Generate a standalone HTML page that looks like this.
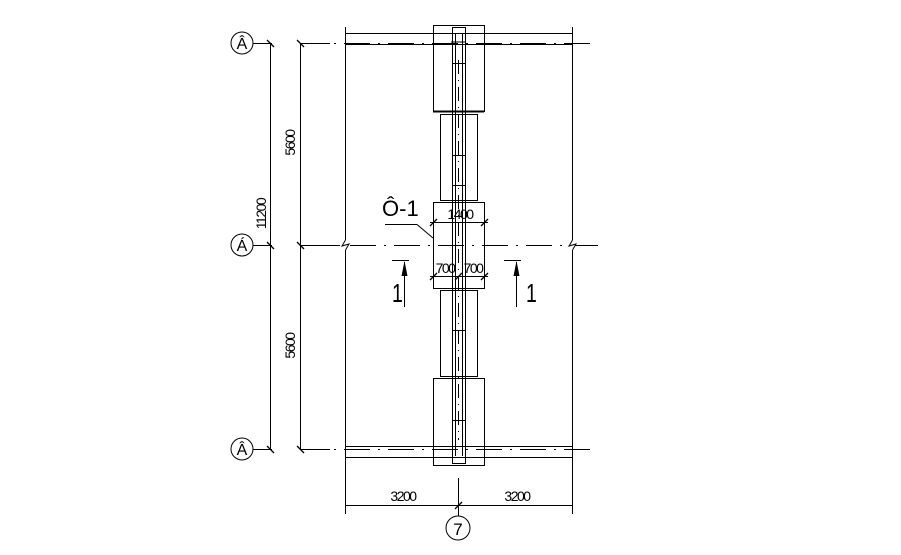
<!DOCTYPE html>
<html><head><meta charset="utf-8"><style>
html,body{margin:0;padding:0;background:#fff;}
svg{display:block;}
text{font-family:"Liberation Sans",sans-serif;fill:#000;}
</style></head><body>
<svg width="901" height="555" viewBox="0 0 901 555" xmlns="http://www.w3.org/2000/svg">
<g stroke="#000" stroke-width="1" fill="none">
<!-- axis centre lines -->
<g stroke-dasharray="26,8,2,8">
<line x1="300" y1="43.5" x2="598" y2="43.5"/>
<line x1="300" y1="449.5" x2="598" y2="449.5"/>
<line x1="350" y1="245.5" x2="566" y2="245.5"/>
</g>
<line x1="575" y1="245.5" x2="598" y2="245.5"/>
<line x1="300" y1="245.5" x2="340" y2="245.5"/>
<!-- outer verticals -->
<line x1="345.5" y1="27" x2="345.5" y2="240"/><polyline points="345.5,240 342,246 349,244 345.5,250"/><line x1="345.5" y1="250" x2="345.5" y2="514"/>
<line x1="572.5" y1="27" x2="572.5" y2="240"/><polyline points="572.5,240 569,246 576,244 572.5,250"/><line x1="572.5" y1="250" x2="572.5" y2="514"/>
<!-- beams -->
<line x1="345" y1="33.5" x2="572" y2="33.5"/>
<line x1="345" y1="44.5" x2="572" y2="44.5"/>
<line x1="345" y1="446.5" x2="572" y2="446.5"/>
<line x1="345" y1="457.5" x2="572" y2="457.5"/>
<!-- blocks -->
<rect x="433.5" y="25.5" width="51" height="86"/>
<rect x="440.5" y="114.5" width="37" height="86"/>
<rect x="433.5" y="202.5" width="51" height="86"/>
<rect x="440.5" y="290.5" width="37" height="86"/>
<rect x="433.5" y="378.5" width="51" height="87"/>
<line x1="433" y1="111.5" x2="484" y2="111.5" stroke-width="2"/>
<!-- column -->
<polyline points="452.5,457 452.5,27.5 465.5,27.5 465.5,457"/>
<polyline points="452.5,457 452.5,463.5 465.5,463.5 465.5,457"/>
<line x1="455.5" y1="33" x2="455.5" y2="456"/>
<line x1="462.5" y1="33" x2="462.5" y2="456"/>
<line x1="451" y1="42" x2="466" y2="42"/>
<line x1="458.5" y1="60" x2="458.5" y2="440" stroke-dasharray="14,6,1,6"/>
<line x1="452" y1="63.5" x2="466" y2="63.5"/>
<line x1="452" y1="155.5" x2="466" y2="155.5"/>
<line x1="452" y1="185.5" x2="466" y2="185.5"/>
<line x1="452" y1="330.5" x2="466" y2="330.5"/>
<line x1="452" y1="420.5" x2="466" y2="420.5"/>
<!-- left dims -->
<line x1="270.5" y1="43" x2="270.5" y2="449"/>
<line x1="300.5" y1="43" x2="300.5" y2="449"/>
<line x1="253" y1="43.5" x2="272" y2="43.5"/>
<line x1="253" y1="245.5" x2="272" y2="245.5"/>
<line x1="253" y1="449.5" x2="272" y2="449.5"/>
<line x1="300" y1="43.5" x2="330" y2="43.5"/>
<line x1="300" y1="245.5" x2="330" y2="245.5"/>
<line x1="300" y1="449.5" x2="330" y2="449.5"/>
<g stroke-width="1.3">
<line x1="267" y1="40" x2="274" y2="47"/><line x1="267" y1="242" x2="274" y2="249"/><line x1="267" y1="446" x2="274" y2="453"/>
<line x1="297" y1="40" x2="304" y2="47"/><line x1="297" y1="242" x2="304" y2="249"/><line x1="297" y1="446" x2="304" y2="453"/>
</g>
<circle cx="242" cy="43" r="11"/>
<circle cx="242" cy="245" r="11"/>
<circle cx="242" cy="449" r="11"/>
<!-- bottom dims -->
<line x1="345" y1="505.5" x2="572" y2="505.5"/>
<line x1="458.5" y1="478" x2="458.5" y2="516"/>
<line x1="455" y1="509" x2="462" y2="502" stroke-width="1.3"/>
<circle cx="458" cy="528" r="12"/>
<!-- 1400 / 700 dims -->
<line x1="430" y1="222.5" x2="488" y2="222.5"/>
<line x1="430" y1="276.5" x2="488" y2="276.5"/>
<g stroke-width="1.3">
<line x1="430" y1="226" x2="437" y2="219"/><line x1="481" y1="226" x2="488" y2="219"/>
<line x1="430" y1="280" x2="437" y2="273"/><line x1="455" y1="280" x2="462" y2="273"/><line x1="481" y1="280" x2="488" y2="273"/>
</g>
<!-- leader -->
<polyline points="385,224.5 417,224.5 433,238"/>
<!-- section arrows -->
<line x1="392" y1="260.5" x2="409" y2="260.5"/>
<line x1="404.5" y1="262" x2="404.5" y2="307"/>
<line x1="504" y1="260.5" x2="521" y2="260.5"/>
<line x1="516.5" y1="262" x2="516.5" y2="307"/>
</g>
<polygon points="404.5,261 401.5,276 407.5,276" fill="#000"/>
<polygon points="516.5,261 513.5,276 519.5,276" fill="#000"/>
<g font-size="16" text-anchor="middle">
<text x="242" y="49">Â</text>
<text x="242" y="251">Á</text>
<text x="242" y="455">Â</text>
<text x="458" y="535" font-size="17">7</text>
</g>
<g font-size="14" letter-spacing="-1.5" text-anchor="middle">
<text x="295" y="143" transform="rotate(-90 295 143)">5600</text>
<text x="295" y="346" transform="rotate(-90 295 346)">5600</text>
<text x="266" y="214" transform="rotate(-90 266 214)">11200</text>
<text x="403" y="501">3200</text>
<text x="517" y="501">3200</text>
<text x="460" y="219">1400</text>
<text x="445" y="273">700</text>
<text x="473" y="273">700</text>
</g>
<text x="382" y="216" font-size="22">Ô-1</text>
<text x="0" y="0" font-size="26" transform="translate(392,302) scale(0.75,1)">1</text>
<text x="0" y="0" font-size="26" transform="translate(526,302) scale(0.75,1)">1</text>
</svg>
</body></html>
